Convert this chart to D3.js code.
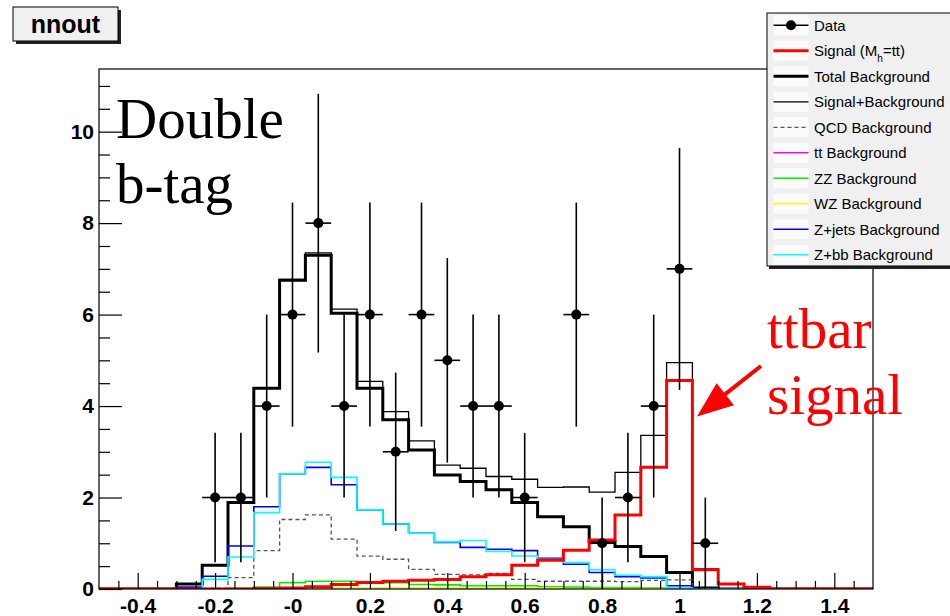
<!DOCTYPE html>
<html>
<head>
<meta charset="utf-8">
<script src="https://cdn.jsdelivr.net/npm/d3@7"></script>
<style>
  body { margin: 0; background: #fff; }
  svg { display: block; }
</style>
</head>
<body>
<svg id="chart" width="950" height="616"></svg>
<script>
// Binning of the nnout histograms
const xMin = -0.5, xMax = 1.5, nBins = 30;
const yMax = 11.37;

// Observed events per bin
const dataCounts = [0, 0, 0, 0, 2, 2, 4, 6, 8, 4, 6, 3, 6, 5, 4, 4, 2, 0, 6, 1, 2, 4, 7, 1, 0, 0, 0, 0, 0, 0];

// Expected yields per bin
const signal     = [0, 0, 0, 0, 0, 0, 0.01, 0.02, 0.05, 0.10, 0.14, 0.17, 0.19, 0.21, 0.27, 0.31, 0.52, 0.63, 0.85, 1.07, 1.62, 2.66, 4.56, 0.42, 0.11, 0.04, 0, 0, 0, 0];
const totalBkg   = [0, 0, 0, 0.11, 0.52, 1.89, 4.39, 6.75, 7.30, 6.03, 4.39, 3.70, 3.04, 2.49, 2.35, 2.17, 1.89, 1.58, 1.36, 1.04, 0.93, 0.71, 0.36, 0.02, 0, 0, 0, 0, 0, 0];
const sigPlusBkg = [0, 0, 0, 0.11, 0.52, 1.89, 4.40, 6.77, 7.35, 6.12, 4.54, 3.88, 3.24, 2.71, 2.64, 2.46, 2.40, 2.22, 2.23, 2.12, 2.55, 3.36, 4.95, 0.44, 0.11, 0.04, 0, 0, 0, 0];
const qcdBkg     = [0, 0, 0, 0, 0.02, 0.25, 0.84, 1.52, 1.62, 1.09, 0.72, 0.65, 0.43, 0.32, 0.31, 0.34, 0.21, 0.17, 0.17, 0.17, 0.16, 0.19, 0.20, 0, 0, 0, 0, 0, 0, 0];
const ttBkg      = [0, 0, 0, 0, 0, 0, 0, 0.01, 0.01, 0.01, 0.01, 0.01, 0.01, 0.01, 0.01, 0.01, 0.01, 0.01, 0.01, 0.01, 0.01, 0.01, 0.01, 0, 0, 0, 0, 0, 0, 0];
const zzBkg      = [0, 0, 0, 0, 0, 0.02, 0.04, 0.14, 0.17, 0.17, 0.16, 0.14, 0.10, 0.09, 0.07, 0.07, 0.07, 0.05, 0.04, 0.03, 0.03, 0.02, 0.01, 0, 0, 0, 0, 0, 0, 0];
const wzBkg      = [0, 0, 0, 0, 0.01, 0.01, 0.02, 0.02, 0.02, 0.02, 0.02, 0.02, 0.02, 0.02, 0.02, 0.02, 0.02, 0.02, 0.01, 0.01, 0.01, 0.01, 0.01, 0, 0, 0, 0, 0, 0, 0];
const zjetsBkg   = [0, 0, 0, 0.04, 0.28, 0.94, 1.80, 2.52, 2.66, 2.28, 1.73, 1.42, 1.22, 1.02, 0.91, 0.87, 0.84, 0.67, 0.54, 0.36, 0.27, 0.24, 0.07, 0, 0, 0, 0, 0, 0, 0];
const zbbBkg     = [0, 0, 0, 0, 0.21, 0.70, 1.67, 2.52, 2.77, 2.44, 1.73, 1.42, 1.22, 1.03, 1.06, 0.82, 0.72, 0.65, 0.58, 0.42, 0.30, 0.27, 0.02, 0, 0, 0, 0, 0, 0, 0];

// Axis ticks
const xMajorTicks = [-0.4, -0.2, 0, 0.2, 0.4, 0.6, 0.8, 1.0, 1.2, 1.4];
const xTickLabels = ["-0.4", "-0.2", "-0", "0.2", "0.4", "0.6", "0.8", "1", "1.2", "1.4"];
const yMajorTicks = [0, 2, 4, 6, 8, 10];
const yTickLabels = ["0", "2", "4", "6", "8", "10"];

// Legend entries
const legendLabels = ["Data", "Signal (M", "Total Background", "Signal+Background", "QCD Background",
                      "tt Background", "ZZ Background", "WZ Background", "Z+jets Background", "Z+bb Background"];

const svg = d3.select("#chart");
const frame = { left: 99, right: 873, top: 69, bottom: 589 };

const x = d3.scaleLinear().domain([xMin, xMax]).range([frame.left, frame.right]);
const y = d3.scaleLinear().domain([0, yMax]).range([frame.bottom, frame.top]);
const binW = (xMax - xMin) / nBins;
const edge = i => xMin + i * binW;

svg.append("rect").attr("width", 950).attr("height", 616).attr("fill", "#fff");

svg.append("defs").append("clipPath").attr("id", "frameClip")
  .append("rect")
  .attr("x", frame.left).attr("y", frame.top)
  .attr("width", frame.right - frame.left).attr("height", frame.bottom - frame.top);

// Step outline of a histogram
const stepLine = d3.line().x(d => x(d[0])).y(d => y(d[1])).curve(d3.curveStepAfter);
function stepPath(vals) {
  const pts = vals.map((v, i) => [edge(i), v]);
  pts.push([xMax, vals[vals.length - 1]]);
  return stepLine(pts);
}

const plot = svg.append("g").attr("clip-path", "url(#frameClip)");

const histStyles = [
  { vals: totalBkg,   color: "#000000", width: 3 },
  { vals: sigPlusBkg, color: "#000000", width: 1.3 },
  { vals: qcdBkg,     color: "#555555", width: 1.3, dash: "4,3" },
  { vals: ttBkg,      color: "#ff00ff", width: 1.6 },
  { vals: zzBkg,      color: "#00ee00", width: 1.6 },
  { vals: wzBkg,      color: "#ffff00", width: 1.6 },
  { vals: zjetsBkg,   color: "#0000ff", width: 1.6 },
  { vals: zbbBkg,     color: "#00ffff", width: 1.6 },
  { vals: signal,     color: "#ff0000", width: 3 }
];

plot.selectAll("path.hist").data(histStyles).join("path")
  .attr("class", "hist")
  .attr("d", d => stepPath(d.vals))
  .attr("fill", "none")
  .attr("stroke", d => d.color)
  .attr("stroke-width", d => d.width)
  .attr("stroke-dasharray", d => d.dash || null)
  .attr("stroke-linejoin", "miter");

// Data points with sqrt(N) errors
const points = dataCounts.map((n, i) => ({ c: edge(i) + binW / 2, n, lo: edge(i), hi: edge(i + 1) }))
  .filter(d => d.n > 0);
const dataG = plot.append("g").attr("stroke", "#000").attr("stroke-width", 1.6);
dataG.selectAll("line.ev").data(points).join("line")
  .attr("class", "ev")
  .attr("x1", d => x(d.c)).attr("x2", d => x(d.c))
  .attr("y1", d => y(d.n - Math.sqrt(d.n))).attr("y2", d => y(d.n + Math.sqrt(d.n)));
dataG.selectAll("line.eh").data(points).join("line")
  .attr("class", "eh")
  .attr("x1", d => x(d.lo)).attr("x2", d => x(d.hi))
  .attr("y1", d => y(d.n)).attr("y2", d => y(d.n));
plot.selectAll("circle.pt").data(points).join("circle")
  .attr("class", "pt")
  .attr("cx", d => x(d.c)).attr("cy", d => y(d.n)).attr("r", 5)
  .attr("fill", "#000");

// Frame
svg.append("rect")
  .attr("x", frame.left).attr("y", frame.top)
  .attr("width", frame.right - frame.left).attr("height", frame.bottom - frame.top)
  .attr("fill", "none").attr("stroke", "#000").attr("stroke-width", 1.2);

const tickFont = "'Liberation Sans', Arial, Helvetica, sans-serif";

// X axis
const xMinor = d3.range(-0.45, 1.46, 0.05).filter(v => !xMajorTicks.some(m => Math.abs(m - v) < 1e-6));
const xAxisMinor = svg.append("g").attr("transform", `translate(0,${frame.bottom})`)
  .call(d3.axisBottom(x).tickValues(xMinor).tickSizeInner(-8).tickSizeOuter(0).tickFormat(""));
const xAxisMajor = svg.append("g").attr("transform", `translate(0,${frame.bottom})`)
  .call(d3.axisBottom(x).tickValues(xMajorTicks).tickSizeInner(-16).tickSizeOuter(0).tickPadding(9)
    .tickFormat((d, i) => xTickLabels[i]));
[xAxisMinor, xAxisMajor].forEach(g => {
  g.select(".domain").remove();
  g.selectAll(".tick line").attr("stroke", "#000").attr("stroke-width", 1.2);
});
xAxisMajor.selectAll(".tick text")
  .attr("font-family", tickFont).attr("font-weight", "bold").attr("font-size", 21).attr("fill", "#000");

// Y axis
const yMinor = d3.range(0.5, 11.01, 0.5).filter(v => !yMajorTicks.includes(v));
const yAxisMinor = svg.append("g").attr("transform", `translate(${frame.left},0)`)
  .call(d3.axisLeft(y).tickValues(yMinor).tickSizeInner(-11).tickSizeOuter(0).tickFormat(""));
const yAxisMajor = svg.append("g").attr("transform", `translate(${frame.left},0)`)
  .call(d3.axisLeft(y).tickValues(yMajorTicks).tickSizeInner(-23).tickSizeOuter(0).tickPadding(5)
    .tickFormat((d, i) => yTickLabels[i]));
[yAxisMinor, yAxisMajor].forEach(g => {
  g.select(".domain").remove();
  g.selectAll(".tick line").attr("stroke", "#000").attr("stroke-width", 1.2);
});
yAxisMajor.selectAll(".tick text")
  .attr("font-family", tickFont).attr("font-weight", "bold").attr("font-size", 21).attr("fill", "#000");

// Title box
svg.append("rect").attr("x", 16).attr("y", 10).attr("width", 105).attr("height", 34).attr("fill", "#222");
svg.append("rect").attr("x", 13).attr("y", 7).attr("width", 105).attr("height", 34)
  .attr("fill", "#f0f0f0").attr("stroke", "#000").attr("stroke-width", 1);
svg.append("text").attr("x", 65.5).attr("y", 33).attr("text-anchor", "middle")
  .attr("font-family", tickFont).attr("font-weight", "bold").attr("font-size", 25).attr("fill", "#000")
  .text("nnout");

// Annotations
const serif = "'Liberation Serif', 'Times New Roman', Times, serif";
svg.append("text").attr("x", 116).attr("y", 138).attr("font-family", serif).attr("font-size", 57)
  .attr("fill", "#000").text("Double");
svg.append("text").attr("x", 116).attr("y", 203).attr("font-family", serif).attr("font-size", 57)
  .attr("fill", "#000").text("b-tag");
svg.append("text").attr("x", 767).attr("y", 348).attr("font-family", serif).attr("font-size", 57)
  .attr("fill", "#ff0000").text("ttbar");
svg.append("text").attr("x", 767).attr("y", 414).attr("font-family", serif).attr("font-size", 57)
  .attr("fill", "#ff0000").text("signal");

// Arrow pointing at the signal peak
const arrowStart = [761, 366], arrowTip = [697, 416.5];
const dx = arrowTip[0] - arrowStart[0], dy = arrowTip[1] - arrowStart[1];
const len = Math.hypot(dx, dy), ux = dx / len, uy = dy / len;
const headLen = 36, headHalf = 14;
const base = [arrowTip[0] - ux * headLen, arrowTip[1] - uy * headLen];
svg.append("line")
  .attr("x1", arrowStart[0]).attr("y1", arrowStart[1])
  .attr("x2", base[0] + ux * 4).attr("y2", base[1] + uy * 4)
  .attr("stroke", "#ff0000").attr("stroke-width", 4);
svg.append("path")
  .attr("d", `M${arrowTip[0]},${arrowTip[1]} L${base[0] - uy * headHalf},${base[1] + ux * headHalf} L${base[0] + uy * headHalf},${base[1] - ux * headHalf} Z`)
  .attr("fill", "#ff0000");

// Legend
const leg = svg.append("g");
const legX = 767, legY = 13, legH = 253;
leg.append("rect").attr("x", legX + 2).attr("y", legY + 2).attr("width", 200).attr("height", legH + 1).attr("fill", "#222");
leg.append("rect").attr("x", legX).attr("y", legY).attr("width", 200).attr("height", legH)
  .attr("fill", "#f0f0f0").attr("stroke", "#000").attr("stroke-width", 1);

const legendStyles = [
  { type: "data" },
  { color: "#ff0000", width: 3 },
  { color: "#000000", width: 3 },
  { color: "#000000", width: 1.3 },
  { color: "#555555", width: 1.3, dash: "4,3" },
  { color: "#ff00ff", width: 1.6 },
  { color: "#00ee00", width: 1.6 },
  { color: "#ffff00", width: 1.6 },
  { color: "#0000ff", width: 1.6 },
  { color: "#00ffff", width: 1.6 }
];
const rowY = i => 25.3 + i * 25.5;
const sx0 = 773.5, sx1 = 808.5;
legendLabels.forEach((label, i) => {
  const cy = rowY(i), st = legendStyles[i];
  leg.append("rect").attr("x", sx0).attr("y", cy - 10).attr("width", sx1 - sx0).attr("height", 20)
    .attr("fill", "#fbfbfb");
  leg.append("line").attr("x1", sx0).attr("x2", sx1).attr("y1", cy).attr("y2", cy)
    .attr("stroke", st.type === "data" ? "#000" : st.color)
    .attr("stroke-width", st.type === "data" ? 1.5 : st.width)
    .attr("stroke-dasharray", st.dash || null);
  if (st.type === "data") {
    leg.append("circle").attr("cx", (sx0 + sx1) / 2).attr("cy", cy).attr("r", 5).attr("fill", "#000");
  }
  const t = leg.append("text").attr("x", 814).attr("y", cy + 5.5)
    .attr("font-family", tickFont).attr("font-size", 15).attr("fill", "#000");
  t.append("tspan").text(label);
  if (i === 1) {
    t.append("tspan").attr("font-size", 10).attr("dy", 6).text("h");
    t.append("tspan").attr("dy", -6).text("=tt)");
  }
});
</script>
</body>
</html>
